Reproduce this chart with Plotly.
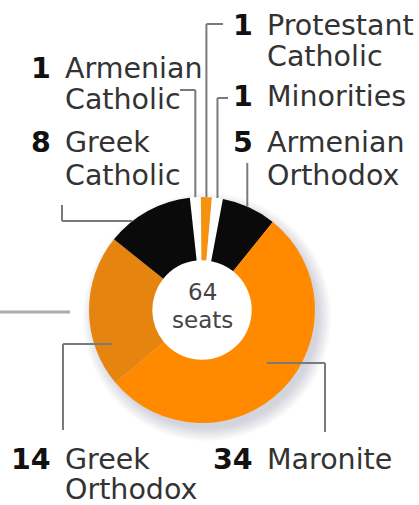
import math
import plotly.graph_objects as go

# ---------------- data ----------------
groups = ["Armenian Catholic", "Protestant Catholic", "Minorities", "Armenian Orthodox",
          "Maronite", "Greek Orthodox", "Greek Catholic"]
seats = [1, 1, 1, 5, 34, 14, 8]
colors = ["#FFFFFF", "#F7920F", "#FFFFFF", "#0A0A0A", "#FF8A00", "#E5840F", "#0A0A0A"]
label_num = {"Armenian Catholic": "1", "Protestant Catholic": "1", "Minorities": "1",
             "Armenian Orthodox": "5", "Maronite": "34", "Greek Orthodox": "14",
             "Greek Catholic": "8"}
label_lines = {"Armenian Catholic": ["Armenian", "Catholic"],
               "Protestant Catholic": ["Protestant", "Catholic"],
               "Minorities": ["Minorities"],
               "Armenian Orthodox": ["Armenian", "Orthodox"],
               "Maronite": ["Maronite"],
               "Greek Orthodox": ["Greek", "Orthodox"],
               "Greek Catholic": ["Greek", "Catholic"]}
total_text = ["64", "seats"]

# ---------------- layout constants (pixels) ----------------
W, H = 419, 505
CX, CY, R = 202, 310, 113
HOLE = 0.44
ROTATION = -6.2          # start of first slice, clockwise from 12 o'clock
FONT = "DejaVu Sans"
FS = 28.5


def dom(cx, cy, r):
    return dict(x=[(cx - r) / W, (cx + r) / W], y=[1 - (cy + r) / H, 1 - (cy - r) / H])


def px(x):
    return x / W


def py(y):
    return 1 - y / H


fig = go.Figure()

# soft drop shadow (stacked translucent discs, offset down-right)
for i in range(9):
    fig.add_trace(go.Pie(values=[1], labels=["shadow"], sort=False,
                         marker=dict(colors=["rgba(85,95,115,0.032)"], line=dict(width=0)),
                         textinfo="none", hoverinfo="skip", showlegend=False,
                         domain=dom(CX + 5, CY + 7, R + 11 - i * 1.6)))

# white disc for the hole (hides the shadow inside)
fig.add_trace(go.Pie(values=[1], labels=["hole"], sort=False,
                     marker=dict(colors=["#FFFFFF"], line=dict(width=0)),
                     textinfo="none", hoverinfo="skip", showlegend=False,
                     domain=dom(CX, CY, R * HOLE + 1)))

# main donut
fig.add_trace(go.Pie(values=seats, labels=groups, sort=False, direction="clockwise",
                     rotation=ROTATION, hole=HOLE,
                     marker=dict(colors=colors, line=dict(width=0)),
                     textinfo="none", hoverinfo="label+value", showlegend=False,
                     domain=dom(CX, CY, R)))

# slice mid angles from data
tot = sum(seats)
mid = {}
acc = ROTATION
for g, v in zip(groups, seats):
    a = acc + 360 * v / tot / 2
    mid[g] = a
    acc += 360 * v / tot


def edge_pt(angle_deg, rr=R):
    a = math.radians(angle_deg)
    return CX + rr * math.sin(a), CY - rr * math.cos(a)


def edge_y_at_x(x):
    return CY - math.sqrt(max(R * R - (x - CX) ** 2, 0))


def edge_x_at_y_left(y):
    return CX - math.sqrt(max(R * R - (y - CY) ** 2, 0))


LINE = "#7a7a7a"
shapes = []


def seg(x0, y0, x1, y1, color=LINE, w=2):
    shapes.append(dict(type="line", xref="paper", yref="paper",
                       x0=px(x0), y0=py(y0), x1=px(x1), y1=py(y1),
                       line=dict(color=color, width=w)))


# top leaders (vertical into slice at its mid angle)
xa = edge_pt(mid["Armenian Catholic"])[0]
seg(180, 90, xa, 90); seg(xa, 90, xa, edge_y_at_x(xa))
xp = edge_pt(mid["Protestant Catholic"])[0]
seg(223, 24, xp, 24); seg(xp, 24, xp, edge_y_at_x(xp))
xm = edge_pt(mid["Minorities"])[0]
seg(228, 98, xm, 98); seg(xm, 98, xm, edge_y_at_x(xm))
xo = edge_pt(mid["Armenian Orthodox"])[0] - 2
seg(xo, 163, xo, edge_y_at_x(xo))
# side / bottom leaders
seg(62, 205, 62, 221); seg(62, 221, edge_x_at_y_left(221), 221)
seg(63, 430, 63, 344); seg(63, 344, 112, 344)
seg(325, 432, 325, 363); seg(325, 363, 267, 363)
seg(0, 312, 70, 312, color="#ababab", w=3)

annotations = []


def label(g, num_right, text_left, y_first, spacing=32):
    annotations.append(dict(text="<b>%s</b>" % label_num[g], x=px(num_right), y=py(y_first),
                            xref="paper", yref="paper", xanchor="right", yanchor="middle",
                            showarrow=False, font=dict(family=FONT, size=FS, color="#111111")))
    for k, t in enumerate(label_lines[g]):
        annotations.append(dict(text=t, x=px(text_left), y=py(y_first + k * spacing),
                                xref="paper", yref="paper", xanchor="left", yanchor="middle",
                                showarrow=False, font=dict(family=FONT, size=FS, color="#333333")))


label("Protestant Catholic", 255, 265, 25)
label("Armenian Catholic", 53, 63, 68)
label("Minorities", 255, 265, 97)
label("Greek Catholic", 53, 63, 142, 33)
label("Armenian Orthodox", 255, 265, 142, 33)
label("Greek Orthodox", 53, 63, 459, 30)
label("Maronite", 255, 265, 459)

for k, t in enumerate(total_text):
    annotations.append(dict(text=t, x=px(CX), y=py(292 + k * 28), xref="paper", yref="paper",
                            xanchor="center", yanchor="middle", showarrow=False,
                            font=dict(family=FONT, size=23, color="#444444")))

fig.update_layout(width=W, height=H, autosize=False,
                  margin=dict(l=0, r=0, t=0, b=0),
                  paper_bgcolor="white", plot_bgcolor="white",
                  shapes=shapes, annotations=annotations, showlegend=False)

fig.write_html("out.html", config={"displayModeBar": False},
               post_script="document.body.style.margin='0px';document.body.style.overflow='hidden';")
